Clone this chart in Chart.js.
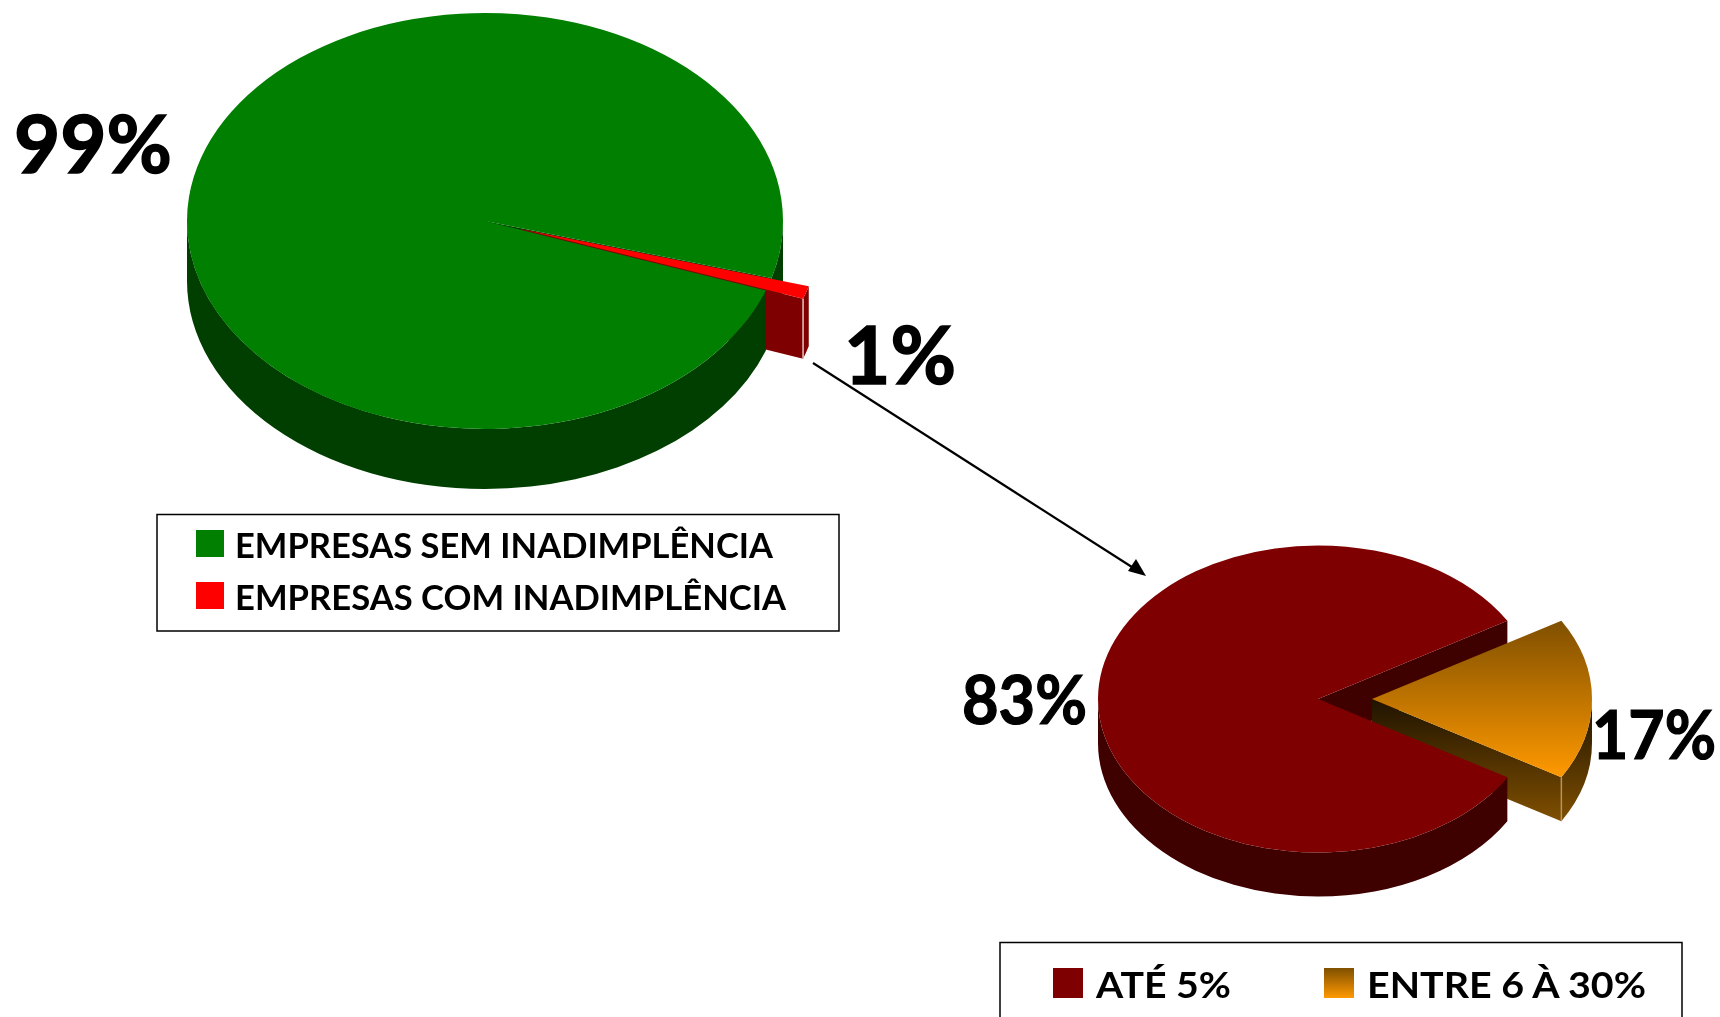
<!DOCTYPE html>
<html>
<head>
<meta charset="utf-8">
<script src="https://cdn.jsdelivr.net/npm/chart.js@4"></script>
<style>
html,body{margin:0;padding:0;background:#fff;width:1720px;height:1017px;overflow:hidden}
canvas,svg{position:absolute;display:block}
svg{left:0;top:0}
</style>
</head>
<body>
<canvas id="pieA" style="left:144px;top:0"></canvas>
<canvas id="pieB" style="left:1040px;top:465px"></canvas>
<svg id="overlay" width="1720" height="1017" xmlns="http://www.w3.org/2000/svg"></svg>
<script>
// ---- data ----
const categoriesA = ['EMPRESAS SEM INADIMPLÊNCIA', 'EMPRESAS COM INADIMPLÊNCIA'];
const valuesA = [99, 1];
const labelsA = ['99%', '1%'];
const categoriesB = ['ATÉ 5%', 'ENTRE 6 À 30%'];
const valuesB = [83, 17];
const labelsB = ['83%', '17%'];

const FONT = 'Lato';
const SQUASH = 0.698;

function pie3d(id, size, radius, labels, values, colors, rotation, explode, cfg) {
  const canvas = document.getElementById(id);
  canvas.width = size; canvas.height = size;
  let smallStart = 0, smallEnd = 0;
  const wallPlugin = {
    id: 'wall3d',
    afterDatasetsUpdate(chart) {
      // Chart.js enlarges an offset arc by offset * (1 - sin(sweep)) and trims its sweep by that
      // amount / PI along the rim; undo both so the slice keeps the pie's radius and its true sweep
      const el = chart.getDatasetMeta(0).data[1];
      smallStart = el.startAngle; smallEnd = el.endAngle;
      const sweep = smallEnd - smallStart;
      const grow = explode * (1 - Math.sin(Math.min(Math.PI, sweep)));
      el.outerRadius = radius - grow;
      const trim = grow / (Math.PI * radius) / 2;
      el.startAngle = smallStart - trim;
      el.endAngle = smallEnd + trim;
    },
    beforeDatasetsDraw(chart) {
      const ctx = chart.ctx;
      const arcs = chart.getDatasetMeta(0).data;
      const cx = arcs[0].x, cy = arcs[0].y, R = arcs[0].outerRadius;
      const D = cfg.depth, ty = cfg.centerY;
      // Chart.js moves an arc by a quarter of its offset option
      const off = el => {
        const mid = (el.startAngle + el.endAngle) / 2, o = (el.options.offset || 0) / 4;
        return [cx + Math.cos(mid) * o, ty + Math.sin(mid) * o * SQUASH];
      };
      const paint = (style) => { ctx.fillStyle = style; ctx.fill(); };
      const rim = (el, a, b, style) => {
        const [x, y] = off(el);
        ctx.beginPath();
        ctx.ellipse(x, y, R, R * SQUASH, 0, a, b, false);
        ctx.ellipse(x, y + D, R, R * SQUASH, 0, b, a, true);
        ctx.closePath();
        paint(style);
      };
      const face = (el, a, style) => {
        const [x, y] = off(el);
        const ex = x + Math.cos(a) * R, ey = y + Math.sin(a) * R * SQUASH;
        ctx.beginPath();
        ctx.moveTo(x, y); ctx.lineTo(ex, ey); ctx.lineTo(ex, ey + D); ctx.lineTo(x, y + D);
        ctx.closePath();
        paint(style);
      };
      const TAU = Math.PI * 2;
      const norm = a => ((a % TAU) + TAU) % TAU;
      const big = arcs[0], small = arcs[1];
      face(big, big.endAngle, cfg.sides[0]);
      const bigStart = norm(big.startAngle), bigEnd = bigStart + (big.endAngle - big.startAngle);
      if (bigEnd > TAU) rim(big, 0, bigEnd - TAU, cfg.sides[0]);
      const sideStyle = cfg.smallSide ? cfg.smallSide(ctx, ty, D, R) : cfg.sides[1];
      face(small, smallEnd, sideStyle);
      rim(small, Math.max(smallStart, TAU * Math.floor(smallEnd / TAU)), smallEnd, sideStyle);
      const [sx, sy] = off(small);
      const ex = sx + Math.cos(smallEnd) * R, ey = sy + Math.sin(smallEnd) * R * SQUASH;
      ctx.strokeStyle = cfg.edge; ctx.lineWidth = 1.5;
      ctx.beginPath(); ctx.moveTo(ex, ey); ctx.lineTo(ex, ey + D); ctx.stroke();
      rim(big, bigStart, Math.PI, cfg.sides[0]);
      ctx.save();
      ctx.translate(cx, ty);
      ctx.scale(1, SQUASH);
      ctx.translate(-cx, -cy);
    },
    afterDatasetsDraw(chart) { chart.ctx.restore(); }
  };
  return new Chart(canvas, {
    type: 'pie',
    data: { labels, datasets: [{ data: values, backgroundColor: colors, borderWidth: 0, offset: [0, explode * 4], hoverOffset: 0 }] },
    options: {
      responsive: false, animation: false, events: [], rotation, radius,
      layout: { padding: 4 },
      plugins: { legend: { display: false }, tooltip: { enabled: false } }
    },
    plugins: [wallPlugin]
  });
}

pie3d('pieA', 682, 298, categoriesA, valuesA, ['#007f00', '#ff0000'], 109.5, 39, {
  depth: 60, centerY: 221, sides: ['#003f00', '#7f0000'], edge: '#e6c4c4'
});

pie3d('pieB', 556, 220, categoriesB, valuesB,
  c => {
    if (c.dataIndex === 0) return '#7f0000';
    const g = c.chart.ctx.createLinearGradient(0, 278 - 112, 0, 278 + 112);
    g.addColorStop(0, '#7f4f00'); g.addColorStop(1, '#ff9900');
    return g;
  }, 120.6, 54, {
    depth: 44, centerY: 234, sides: ['#3f0000', '#7f4f00'], edge: '#b8955a',
    smallSide: (ctx, ty, D, R) => {
      const g = ctx.createLinearGradient(0, ty, 0, ty + R * SQUASH * 0.51 + D);
      g.addColorStop(0, '#1f1300'); g.addColorStop(1, '#7f4f00');
      return g;
    }
  });

const NS = 'http://www.w3.org/2000/svg';
const svg = document.getElementById('overlay');
function add(tag, attrs, text) {
  const n = document.createElementNS(NS, tag);
  for (const k in attrs) n.setAttribute(k, attrs[k]);
  if (text !== undefined) n.textContent = text;
  svg.appendChild(n);
  return n;
}
function label(text, x, y, size, width, thick) {
  add('text', { x, y, 'font-family': FONT, 'font-size': size, 'font-weight': 700, fill: '#000',
    stroke: '#000', 'stroke-width': thick,
    textLength: width, lengthAdjust: 'spacingAndGlyphs' }, text);
}
const defs = add('defs', {});
const grad = document.createElementNS(NS, 'linearGradient');
grad.setAttribute('id', 'swatch'); grad.setAttribute('x1', 0); grad.setAttribute('y1', 0); grad.setAttribute('x2', 0); grad.setAttribute('y2', 1);
[['0', '#7f4f00'], ['1', '#ff9900']].forEach(([o, c]) => {
  const s = document.createElementNS(NS, 'stop'); s.setAttribute('offset', o); s.setAttribute('stop-color', c); grad.appendChild(s);
});
defs.appendChild(grad);

label(labelsA[0], 14, 173, 80, 158, 1.5);
label(labelsA[1], 844, 384, 80, 112, 1.5);
label(labelsB[0], 962, 724, 66, 125, 1.2);
label(labelsB[1], 1592, 759, 66, 124, 1.2);

add('line', { x1: 813, y1: 363, x2: 1135, y2: 569, stroke: '#000', 'stroke-width': 2.2 });
add('polygon', { points: '1146,576 1128,571 1136,559', fill: '#000' });

add('rect', { x: 157, y: 514.5, width: 682, height: 116.5, fill: 'none', stroke: '#000', 'stroke-width': 1.5 });
add('rect', { x: 196, y: 530, width: 28, height: 27, fill: '#007f00' });
add('rect', { x: 196, y: 582, width: 28, height: 27, fill: '#ff0000' });
label(categoriesA[0], 235, 558, 34, 538, 0);
label(categoriesA[1], 235, 610, 34, 551, 0);

add('rect', { x: 1000, y: 942.5, width: 682, height: 90, fill: 'none', stroke: '#000', 'stroke-width': 1.5 });
add('rect', { x: 1053, y: 968, width: 30, height: 30, fill: '#7f0000' });
add('rect', { x: 1324, y: 968, width: 30, height: 30, fill: 'url(#swatch)' });
label(categoriesB[0], 1096, 998, 36, 135, 0);
label(categoriesB[1], 1367, 998, 36, 279, 0);
</script>
</body>
</html>
